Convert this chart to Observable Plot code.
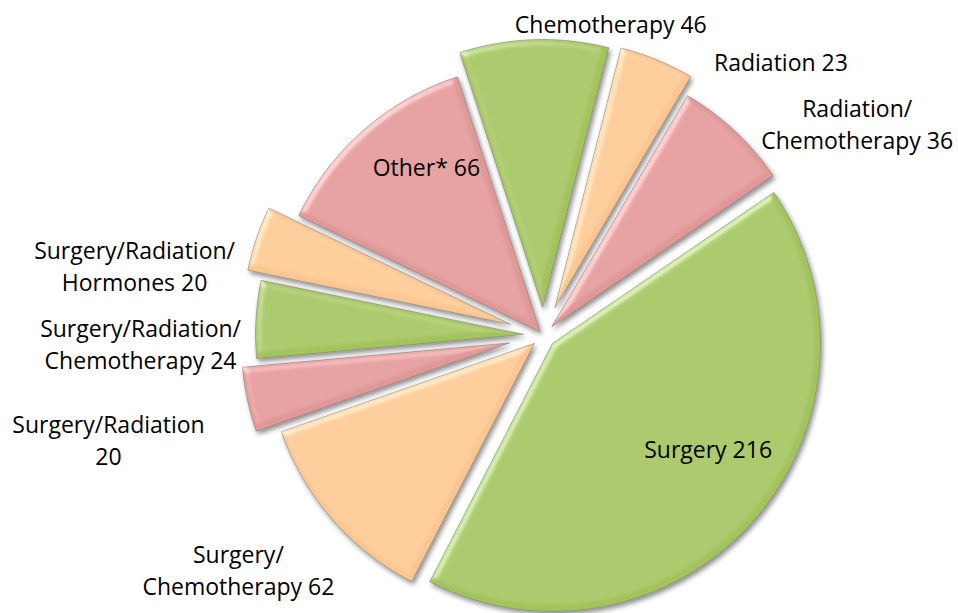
<!DOCTYPE html>
<html>
<head>
<meta charset="utf-8">
<script src="https://cdn.jsdelivr.net/npm/d3@7"></script>
<script src="https://cdn.jsdelivr.net/npm/@observablehq/plot@0.6"></script>
<style>
  html, body { margin: 0; padding: 0; background: #ffffff; }
  #chart { width: 958px; height: 613px; overflow: hidden; }
</style>
</head>
<body>
<div id="chart"></div>
<script>
// ---- data ----
const categories = [
  "Chemotherapy",
  "Radiation",
  "Radiation/\nChemotherapy",
  "Surgery",
  "Surgery/\nChemotherapy",
  "Surgery/Radiation\n",
  "Surgery/Radiation/\nChemotherapy",
  "Surgery/Radiation/\nHormones",
  "Other*"
];
const values = [46, 23, 36, 216, 62, 20, 24, 20, 66];

// ---- styling / layout ----
const palette = ["#A3C35C", "#FAC692", "#E09898"];
const colors = categories.map((_, i) => palette[i % 3]);
const W = 958, H = 613;
const CX = 543, CY = 335, R = 268;
const ROT = -18 * Math.PI / 180;               // angle of first slice
const explode = [28, 30, 12, 12, 12, 35, 20, 35, 5];
const labelNudge = [14, 18.5, 12.8, -7.3, 3.6, -1.1, -4.3, -8.85, 6.5]; // degrees
const labelDist = [320, 363, 379, 199, 384, 447, 403, 415, 206];

const arcs = d3.pie().sort(null).startAngle(ROT).endAngle(ROT + 2 * Math.PI)(values);

const slicePts = [];
const labels = [];
arcs.forEach((a, i) => {
  const mid = (a.startAngle + a.endAngle) / 2;
  const ox = explode[i] * Math.sin(mid), oy = -explode[i] * Math.cos(mid);
  const name = categories[i];
  slicePts.push({name, x: ox, y: oy});
  const n = Math.max(8, Math.ceil((a.endAngle - a.startAngle) * 60));
  for (let k = 0; k <= n; k++) {
    const t = a.startAngle + (a.endAngle - a.startAngle) * k / n;
    slicePts.push({name, x: ox + R * Math.sin(t), y: oy - R * Math.cos(t)});
  }
  const la = mid + labelNudge[i] * Math.PI / 180;
  const text = name.endsWith("\n") ? name + values[i] : name + " " + values[i];
  labels.push({x: labelDist[i] * Math.sin(la), y: -labelDist[i] * Math.cos(la), text});
});

const chart = Plot.plot({
  width: W,
  height: H,
  margin: 0,
  style: {background: "#ffffff", fontFamily: "'Open Sans', sans-serif"},
  x: {domain: [-CX, W - CX], range: [0, W], axis: null},
  y: {domain: [-CY, H - CY], range: [0, H], axis: null},
  color: {domain: categories, range: colors},
  marks: [
    Plot.line(slicePts, {
      x: "x", y: "y", z: "name", fill: "name",
      stroke: "none", curve: "linear-closed"
    }),
    Plot.text(labels, {
      x: "x", y: "y", text: "text",
      fontSize: 23, lineHeight: 1.4, fill: "#000",
      textAnchor: "middle", lineAnchor: "middle",
      fontFamily: "'Open Sans', sans-serif"
    })
  ]
});

// bevel + soft shadow effect on the slices
const ns = "http://www.w3.org/2000/svg";
const defs = document.createElementNS(ns, "defs");
defs.innerHTML = `
<filter id="bevel" x="-15%" y="-15%" width="130%" height="130%">
  <feGaussianBlur in="SourceAlpha" stdDeviation="3" result="blur"/>
  <feSpecularLighting in="blur" surfaceScale="3" specularConstant="0.6" specularExponent="20" lighting-color="#ffffff" result="spec">
    <feDistantLight azimuth="225" elevation="40"/>
  </feSpecularLighting>
  <feComposite in="spec" in2="SourceAlpha" operator="in" result="specIn"/>
  <feComposite in="SourceGraphic" in2="specIn" operator="arithmetic" k1="0" k2="1" k3="0.6" k4="0" result="lit"/>
  <feGaussianBlur in="SourceAlpha" stdDeviation="2.5" result="sblur"/>
  <feOffset in="sblur" dx="1.5" dy="2.5" result="soff"/>
  <feComponentTransfer in="soff" result="shadow"><feFuncA type="linear" slope="0.45"/></feComponentTransfer>
  <feMerge><feMergeNode in="shadow"/><feMergeNode in="lit"/></feMerge>
</filter>`;
chart.insertBefore(defs, chart.firstChild);
chart.querySelectorAll("g[aria-label='line'] path").forEach(p => {
  p.setAttribute("filter", "url(#bevel)");
  p.setAttribute("stroke", "rgba(110,110,110,0.6)");
  p.setAttribute("stroke-width", "0.8");
});

document.getElementById("chart").appendChild(chart);
</script>
</body>
</html>
